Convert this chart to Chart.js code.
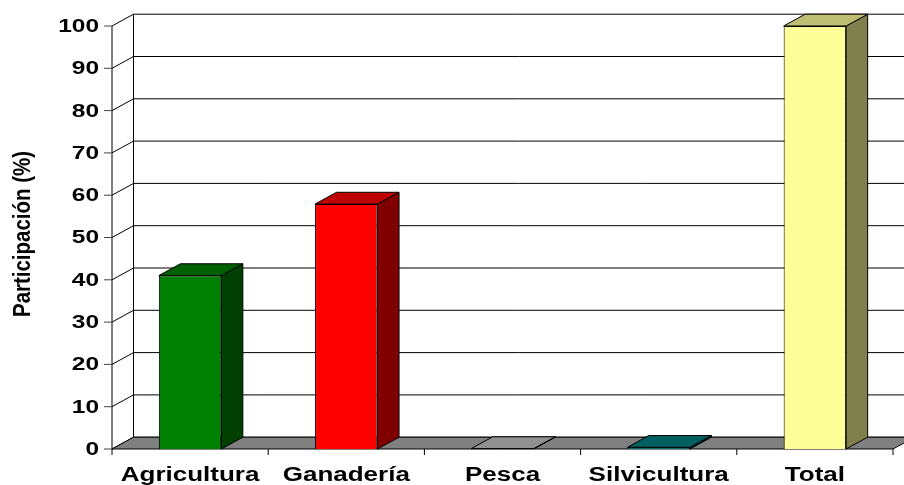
<!DOCTYPE html>
<html>
<head>
<meta charset="utf-8">
<script src="https://cdn.jsdelivr.net/npm/chart.js@4/dist/chart.umd.min.js"></script>
<style>
  html, body { margin: 0; padding: 0; background: #ffffff; }
  #wrap { width: 904px; height: 485px; }
</style>
</head>
<body>
<div id="wrap"><canvas id="c" width="904" height="485"></canvas></div>
<script>
// Participación por sector (%)
const categories = ['Agricultura', 'Ganadería', 'Pesca', 'Silvicultura', 'Total'];
const participacion = [41.0, 57.9, 0.1, 0.4, 100];
const yTicks = [0, 10, 20, 30, 40, 50, 60, 70, 80, 90, 100];
const yTitle = 'Participación (%)';

// Front-face colours of each bar; top and side faces are darker shades
const barColors = ['#008000', '#FF0000', '#C0C0C0', '#008080', '#FFFF99'];

// Depth of the 3D box (pixels)
const DX = 21.5;
const DY = 11.8;
const FONT = '"Liberation Sans", Arial, sans-serif';

function shade(hex, f) {
  const n = parseInt(hex.slice(1), 16);
  const r = Math.round(((n >> 16) & 255) * f);
  const g = Math.round(((n >> 8) & 255) * f);
  const b = Math.round((n & 255) * f);
  return `rgb(${r},${g},${b})`;
}

function line(ctx, x1, y1, x2, y2) {
  ctx.beginPath();
  ctx.moveTo(x1, y1);
  ctx.lineTo(x2, y2);
  ctx.stroke();
}

function poly(ctx, pts, fill) {
  ctx.beginPath();
  ctx.moveTo(pts[0][0], pts[0][1]);
  for (let i = 1; i < pts.length; i++) ctx.lineTo(pts[i][0], pts[i][1]);
  ctx.closePath();
  ctx.fillStyle = fill;
  ctx.fill();
  ctx.strokeStyle = '#000';
  ctx.lineWidth = 1;
  ctx.stroke();
}

// wide bold lettering
function stretchedText(ctx, text, x, y, align, sx) {
  ctx.save();
  ctx.translate(x, y);
  ctx.scale(sx, 1);
  ctx.textAlign = align;
  ctx.fillText(text, 0, 0);
  ctx.restore();
}

// Walls, floor, axes and labels of the 3D box
const box3d = {
  id: 'box3d',
  beforeDatasetsDraw(chart) {
    const { ctx, chartArea: a, scales: { x, y } } = chart;
    const W = chart.width;
    ctx.save();
    ctx.lineWidth = 1;
    ctx.strokeStyle = '#000';

    // back wall gridlines
    yTicks.forEach(v => {
      const yb = y.getPixelForValue(v) - DY;
      line(ctx, a.left + DX, yb, W, yb);
    });
    // back wall left edge
    line(ctx, a.left + DX, y.getPixelForValue(100) - DY, a.left + DX, y.getPixelForValue(0) - DY);
    // side wall diagonals
    yTicks.forEach(v => {
      const yf = y.getPixelForValue(v);
      line(ctx, a.left, yf, a.left + DX, yf - DY);
    });
    // front value axis
    line(ctx, a.left, y.getPixelForValue(100), a.left, y.getPixelForValue(0));
    // value ticks
    ctx.strokeStyle = '#444';
    yTicks.forEach(v => {
      const yf = y.getPixelForValue(v);
      line(ctx, a.left - 8, yf, a.left, yf);
    });

    // floor
    const yb0 = y.getPixelForValue(0);
    poly(ctx, [[a.left, yb0], [a.right, yb0], [a.right + DX, yb0 - DY], [a.left + DX, yb0 - DY]], '#808080');

    // category ticks below the floor
    ctx.strokeStyle = '#000';
    const half = (x.getPixelForValue(1) - x.getPixelForValue(0)) / 2;
    for (let i = 0; i <= categories.length; i++) {
      const xp = i < categories.length ? x.getPixelForValue(i) - half : x.getPixelForValue(i - 1) + half;
      line(ctx, xp, yb0, xp, yb0 + 6);
    }
    ctx.restore();
  },
  afterDatasetsDraw(chart) {
    const { ctx } = chart;
    const meta = chart.getDatasetMeta(0);
    ctx.save();
    meta.data.forEach((bar, i) => {
      const p = bar.getProps(['x', 'y', 'base', 'width'], true);
      const l = p.x - p.width / 2;
      const r = p.x + p.width / 2;
      // side face
      poly(ctx, [[r, p.y], [r + DX, p.y - DY], [r + DX, p.base - DY], [r, p.base]], shade(barColors[i], 0.5));
      // top face
      poly(ctx, [[l, p.y], [l + DX, p.y - DY], [r + DX, p.y - DY], [r, p.y]], shade(barColors[i], 0.75));
    });
    ctx.restore();
  },
  afterDraw(chart) {
    const { ctx, chartArea: a, scales: { x, y } } = chart;
    ctx.save();
    ctx.fillStyle = '#000';
    ctx.textBaseline = 'middle';
    ctx.font = 'bold 18px ' + FONT;
    yTicks.forEach(v => {
      stretchedText(ctx, String(v), a.left - 13, y.getPixelForValue(v) + 1, 'right', 1.36);
    });
    ctx.textBaseline = 'alphabetic';
    ctx.font = 'bold 20px ' + FONT;
    categories.forEach((c, i) => {
      stretchedText(ctx, c, x.getPixelForValue(i), 481, 'center', 1.3);
    });
    // value axis title
    ctx.font = 'bold 18px ' + FONT;
    const tw = ctx.measureText(yTitle).width;
    ctx.translate(29.5, 234);
    ctx.rotate(-Math.PI / 2);
    ctx.scale(166 / tw, 1.35);
    ctx.textAlign = 'center';
    ctx.fillText(yTitle, 0, 0);
    ctx.restore();
  }
};

new Chart(document.getElementById('c'), {
  type: 'bar',
  data: {
    labels: categories,
    datasets: [{
      data: participacion,
      backgroundColor: barColors,
      borderColor: '#000',
      borderWidth: 1,
      categoryPercentage: 1,
      barPercentage: 0.4
    }]
  },
  options: {
    responsive: false,
    animation: false,
    devicePixelRatio: 1,
    layout: { padding: { left: 112, right: 11, top: 26, bottom: 36 } },
    plugins: { legend: { display: false }, tooltip: { enabled: false } },
    scales: {
      x: { display: false, offset: true },
      y: { display: false, min: 0, max: 100 }
    }
  },
  plugins: [box3d]
});
</script>
</body>
</html>
